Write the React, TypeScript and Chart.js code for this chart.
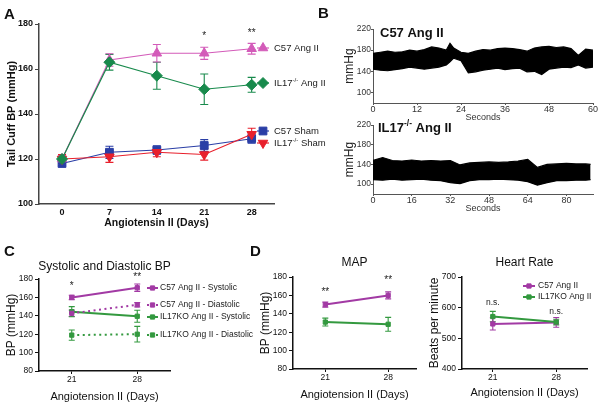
import React, { useEffect, useRef } from 'react';
import { Chart, registerables } from 'chart.js';
import { drawPoint } from 'chart.js/helpers';

Chart.register(...registerables);

const FONT = 'Arial, "Liberation Sans", Helvetica, sans-serif';

// ---------------- Panel A : tail cuff BP ----------------
const daysA = [0, 7, 14, 21, 28];
const tickDaysA = [0, 7, 14, 21, 28];
const tickBpA = [100, 120, 140, 160, 180];
const c57AngII_A = [120, 164, 167, 167, 169];
const c57AngII_AErr = [1.5, 2.8, 3.9, 2.7, 2.4];
const il17AngII_A = [120, 163, 157, 151, 153];
const il17AngII_AErr = [1.9, 3.5, 6, 6.8, 3.3];
const c57Sham_A = [118, 123, 124, 126, 129];
const c57Sham_AErr = [1, 2.7, 1.9, 2.6, 2];
const il17Sham_A = [120, 121, 123, 122, 131];
const il17Sham_AErr = [2, 2.5, 2, 2.5, 2.7];
const starsA = [
  { x: 21, y: 174.7, text: '*' },
  { x: 28, y: 176, text: '**' },
];

// ---------------- Panel B : telemetry traces ----------------
const tickMmHgB = [100, 140, 180, 220];
const secTicksTop = [0, 12, 24, 36, 48, 60];
const secTicksBottom = [0, 16, 32, 48, 64, 80];
const tC57 = [0, 2, 4, 6, 8, 10, 12, 14, 16, 18, 20, 21, 22, 24, 26, 28, 30, 32, 34, 36, 38, 40, 42, 44, 46, 48, 50, 52, 54, 56, 58, 60];
const c57Upper = [174, 176, 178, 176, 177, 180, 178, 181, 186, 184, 180, 193, 184, 176, 174, 178, 181, 180, 183, 184, 183, 181, 178, 184, 186, 187, 185, 186, 183, 170, 182, 180];
const c57Lower = [144, 142, 141, 143, 145, 148, 146, 144, 146, 148, 152, 158, 165, 160, 137, 139, 142, 144, 146, 143, 145, 146, 139, 140, 134, 144, 146, 148, 147, 152, 146, 148];
const tIL17 = [0, 4, 8, 12, 16, 20, 24, 28, 32, 36, 40, 44, 48, 52, 56, 60, 64, 68, 72, 76, 80, 84, 88, 90];
const il17Upper = [148, 154, 148, 147, 149, 147, 148, 147, 148, 139, 143, 144, 145, 144, 145, 147, 150, 134, 140, 141, 142, 141, 141, 140];
const il17Lower = [109, 108, 110, 108, 109, 110, 108, 107, 103, 101, 107, 109, 109, 110, 109, 108, 105, 98, 103, 107, 107, 108, 108, 109];

// ---------------- Panel C : systolic / diastolic ----------------
const daysCD = [21, 28];
const tickBpCD = [80, 100, 120, 140, 160, 180];
const c57Sys = [160, 170.5];
const c57SysErr = [2.4, 4];
const c57Dia = [142.7, 152];
const c57DiaErr = [3.5, 2.5];
const il17Sys = [144.5, 139.5];
const il17SysErr = [5.5, 6.5];
const il17Dia = [119, 120];
const il17DiaErr = [5.5, 8.5];
const starsC = [
  { x: 21, y: 172, text: '*' },
  { x: 28, y: 181.5, text: '**' },
];

// ---------------- Panel D : MAP and heart rate ----------------
const c57Map = [150, 160];
const c57MapErr = [2.7, 3.8];
const il17Map = [131, 128.6];
const il17MapErr = [4.3, 7.5];
const starsMap = [
  { x: 21, y: 163.5, text: '**' },
  { x: 28, y: 177, text: '**' },
];
const tickHR = [400, 500, 600, 700];
const c57HR = [547, 552];
const c57HRErr = [20, 16];
const il17HR = [571, 553];
const il17HRErr = [17, 9];
const nsHR = [
  { x: 21, y: 617, text: 'n.s.' },
  { x: 28, y: 586, text: 'n.s.' },
];

// ---------------- colours ----------------
const PINK = '#d35bb9';
const GREEN_A = '#188a4c';
const BLUE = '#2a3ea6';
const RED = '#e8202c';
const PURPLE = '#a23aa4';
const GREEN = '#33993f';

type Seg = { t: string; sup?: boolean };

const fontStr = (size: number, weight: string) => `${weight} ${size}px ${FONT}`;

function drawRich(ctx: any, segs: Seg[], x: number, y: number, size: number, weight = 'normal', color = '#111', align = 'left') {
  ctx.save();
  ctx.fillStyle = color;
  ctx.textBaseline = 'middle';
  ctx.textAlign = 'left';
  const widths = segs.map((s) => {
    ctx.font = fontStr(s.sup ? size * 0.65 : size, weight);
    return ctx.measureText(s.t).width;
  });
  const total = widths.reduce((a, b) => a + b, 0);
  let cx = align === 'center' ? x - total / 2 : x;
  segs.forEach((s, i) => {
    ctx.font = fontStr(s.sup ? size * 0.65 : size, weight);
    ctx.fillText(s.t, cx, s.sup ? y - size * 0.33 : y);
    cx += widths[i];
  });
  ctx.restore();
}

function drawLegendItem(ctx: any, it: any) {
  ctx.save();
  ctx.strokeStyle = it.color;
  ctx.fillStyle = it.color;
  ctx.lineWidth = it.lineWidth;
  ctx.setLineDash(it.dash || []);
  ctx.beginPath();
  ctx.moveTo(it.x0, it.y);
  ctx.lineTo(it.x1, it.y);
  ctx.stroke();
  ctx.setLineDash([]);
  ctx.lineWidth = 1;
  drawPoint(ctx, { pointStyle: it.style, rotation: it.rotation || 0, radius: it.radius, borderWidth: 1 } as any, (it.x0 + it.x1) / 2, it.y);
  ctx.restore();
  drawRich(ctx, it.segs, it.tx, it.y, it.size, 'normal', '#222');
}

function drawDataTexts(chart: any, items: any[], size: number) {
  const { ctx, scales } = chart;
  items.forEach((a) => {
    const px = scales.x.getPixelForValue(a.x);
    const py = scales.y.getPixelForValue(a.y);
    drawRich(ctx, [{ t: a.text }], px, py, size, 'normal', '#222', 'center');
  });
}

const errorBars = {
  id: 'errorBars',
  beforeDatasetsDraw(chart: any) {
    const { ctx, scales } = chart;
    chart.data.datasets.forEach((ds: any) => {
      if (!ds.errors) return;
      ctx.save();
      ctx.strokeStyle = ds.borderColor;
      ctx.lineWidth = ds.errLineWidth || 1;
      ctx.setLineDash([]);
      ds.data.forEach((p: any, i: number) => {
        const e = ds.errors[i];
        if (!e) return;
        const px = scales.x.getPixelForValue(p.x);
        const yt = scales.y.getPixelForValue(p.y + e);
        const yb = scales.y.getPixelForValue(p.y - e);
        const c = ds.capHalf || 3;
        ctx.beginPath();
        ctx.moveTo(px, yt);
        ctx.lineTo(px, yb);
        ctx.moveTo(px - c, yt);
        ctx.lineTo(px + c, yt);
        ctx.moveTo(px - c, yb);
        ctx.lineTo(px + c, yb);
        ctx.stroke();
      });
      ctx.restore();
    });
  },
};

function overlay(id: string, fn: (chart: any) => void) {
  return { id, afterDraw: fn };
}

const pts = (xs: number[], ys: number[]) => xs.map((x, i) => ({ x, y: ys[i] }));

function series(xs: number[], ys: number[], errs: number[], color: string, style: string, radius: number, rotation: number, lw: number, cap: number, dash: number[] = []) {
  return {
    data: pts(xs, ys),
    errors: errs,
    capHalf: cap,
    errLineWidth: 1.1,
    borderColor: color,
    backgroundColor: color,
    borderWidth: lw,
    borderDash: dash,
    pointStyle: style,
    pointRadius: radius,
    pointRotation: rotation,
    pointBackgroundColor: color,
    pointBorderColor: color,
    pointBorderWidth: 1,
    tension: 0,
    fill: false,
  };
}

function axis(o: any) {
  return {
    type: 'linear',
    bounds: 'data',
    min: o.min,
    max: o.max,
    afterBuildTicks: (s: any) => {
      s.ticks = o.ticks.map((v: number) => ({ value: v }));
    },
    afterFit: (s: any) => {
      if (o.width !== undefined) s.width = o.width;
      if (o.height !== undefined) s.height = o.height;
    },
    grid: {
      display: true,
      drawOnChartArea: false,
      drawTicks: o.tickLen > 0,
      tickLength: o.tickLen,
      color: o.color || '#333',
      lineWidth: o.tickWidth || 1,
    },
    border: { display: true, color: o.color || '#333', width: o.borderWidth || 1 },
    ticks: {
      autoSkip: false,
      maxRotation: 0,
      minRotation: 0,
      padding: o.tickPad,
      color: o.tickColor || '#111',
      font: { family: FONT, size: o.tickSize, weight: o.tickWeight || 'normal' },
      callback: (v: any) => String(v),
    },
    title: o.title
      ? {
          display: true,
          text: o.title,
          color: o.titleColor || '#111',
          font: { family: FONT, size: o.titleSize, weight: o.titleWeight || 'normal' },
          padding: { top: o.titlePad, bottom: o.titlePad },
        }
      : { display: false },
  };
}

function baseOptions(padding: any, x: any, y: any) {
  return {
    responsive: false,
    maintainAspectRatio: false,
    animation: false,
    devicePixelRatio: 1,
    events: [],
    layout: { padding, autoPadding: false },
    plugins: { legend: { display: false }, tooltip: { enabled: false }, title: { display: false } },
    scales: { x, y },
  };
}

// ---------- chart factories ----------
const makeA = () => ({
  type: 'line',
  data: {
    datasets: [
      series(daysA, il17AngII_A, il17AngII_AErr, GREEN_A, 'rectRot', 5.5, 0, 1.2, 4),
      series(daysA, c57AngII_A, c57AngII_AErr, PINK, 'triangle', 5.5, 0, 1.2, 4),
      series(daysA, il17Sham_A, il17Sham_AErr, RED, 'triangle', 5.5, 180, 1.2, 4),
      series(daysA, c57Sham_A, c57Sham_AErr, BLUE, 'rect', 5.5, 0, 1.2, 4),
    ],
  },
  options: baseOptions(
    { top: 24, right: 56, bottom: 0, left: 0 },
    axis({ min: -3.4, max: 31.3, ticks: tickDaysA, height: 31, tickLen: 0, tickPad: 3.6, tickSize: 9, tickWeight: 'bold', title: 'Angiotensin II (Days)', titleSize: 10.5, titleWeight: 'bold', titlePad: 5.5, borderWidth: 1.5, color: '#444' }),
    axis({ min: 100, max: 180, ticks: tickBpA, width: 39, tickLen: 4, tickPad: 2, tickSize: 9, tickWeight: 'bold', title: 'Tail Cuff BP (mmHg)', titleSize: 11, titleWeight: 'bold', titlePad: 5.4, borderWidth: 1.5, color: '#444' })
  ),
  plugins: [
    errorBars,
    overlay('ovA', (chart: any) => {
      const ctx = chart.ctx;
      drawDataTexts(chart, starsA, 10);
      const common = { x0: 257, x1: 269, tx: 274, size: 9.5, lineWidth: 1.2 };
      drawLegendItem(ctx, { ...common, y: 48, color: PINK, style: 'triangle', radius: 5.5, segs: [{ t: 'C57 Ang II' }] });
      drawLegendItem(ctx, { ...common, y: 83, color: GREEN_A, style: 'rectRot', radius: 5.5, segs: [{ t: 'IL17' }, { t: '-/-', sup: true }, { t: ' Ang II' }] });
      drawLegendItem(ctx, { ...common, y: 131, color: BLUE, style: 'rect', radius: 5.5, segs: [{ t: 'C57 Sham' }] });
      drawLegendItem(ctx, { ...common, y: 143, color: RED, style: 'triangle', rotation: 180, radius: 5.5, segs: [{ t: 'IL17' }, { t: '-/-', sup: true }, { t: ' Sham' }] });
    }),
  ],
});

function makeTrace(ts: number[], up: number[], lo: number[], xmax: number, xticks: number[], pad: any, xHeight: number, titlePad: number, label: Seg[], labelX: number, labelY: number) {
  return () => ({
    type: 'line',
    data: {
      datasets: [
        { data: pts(ts, up), borderColor: '#000', borderWidth: 1.2, pointRadius: 0, fill: false, tension: 0 },
        { data: pts(ts, lo), borderColor: '#000', backgroundColor: '#000', borderWidth: 1.2, pointRadius: 0, fill: '-1', tension: 0 },
      ],
    },
    options: baseOptions(
      pad,
      axis({ min: 0, max: xmax, ticks: xticks, height: xHeight, tickLen: 2, tickPad: -1, tickSize: 9, tickColor: '#333', title: 'Seconds', titleSize: 9, titleColor: '#333', titlePad, color: '#555' }),
      axis({ min: 80, max: 220, ticks: tickMmHgB, width: 43, tickLen: 2, tickPad: 0, tickSize: 8.5, tickColor: '#333', title: 'mmHg', titleSize: 12, titleColor: '#222', titlePad: 12, color: '#555' })
    ),
    plugins: [
      overlay('ovB', (chart: any) => {
        drawRich(chart.ctx, label, labelX, labelY, 13, 'bold', '#111');
      }),
    ],
  });
}

const makeBTop = makeTrace(tC57, c57Upper, c57Lower, 60, secTicksTop, { top: 29, right: 8, bottom: 0, left: 0 }, 22, 1.6, [{ t: 'C57 Ang II' }], 50, 33);
const makeBBottom = makeTrace(tIL17, il17Upper, il17Lower, 91, secTicksBottom, { top: 12, right: 8, bottom: 0, left: 0 }, 21, 0.6, [{ t: 'IL17' }, { t: '-/-', sup: true }, { t: ' Ang II' }], 48, 15);

function cdXAxis(min: number, max: number, titlePad: number) {
  return axis({ min, max, ticks: daysCD, height: 36, tickLen: 3, tickPad: 1, tickSize: 8.5, title: 'Angiotension II (Days)', titleSize: 11, titlePad, borderWidth: 1.5, color: '#111' });
}

const makeC = () => ({
  type: 'line',
  data: {
    datasets: [
      series(daysCD, c57Sys, c57SysErr, PURPLE, 'rect', 3, 0, 2, 3),
      series(daysCD, c57Dia, c57DiaErr, PURPLE, 'rect', 3, 0, 2, 3, [2, 3.5]),
      series(daysCD, il17Sys, il17SysErr, GREEN, 'rect', 3, 0, 2, 3),
      series(daysCD, il17Dia, il17DiaErr, GREEN, 'rect', 3, 0, 2, 3, [2, 3.5]),
    ],
  },
  options: baseOptions(
    { top: 39, right: 92, bottom: 0, left: 0 },
    { ...cdXAxis(17.5, 31.5, 1.4), afterFit: (s: any) => { s.height = 34; } },
    axis({ min: 80, max: 180, ticks: tickBpCD, width: 39, tickLen: 4, tickPad: 2, tickSize: 8.5, title: 'BP (mmHg)', titleSize: 12, titlePad: 4, borderWidth: 1.5, color: '#111' })
  ),
  plugins: [
    errorBars,
    overlay('ovC', (chart: any) => {
      const ctx = chart.ctx;
      const ca = chart.chartArea;
      drawRich(ctx, [{ t: 'Systolic and Diastolic BP' }], (ca.left + ca.right) / 2, 27, 12, 'normal', '#111', 'center');
      drawDataTexts(chart, starsC, 10);
      const common = { x0: 147, x1: 158, tx: 160, size: 8.5, lineWidth: 2, style: 'rect', radius: 3 };
      drawLegendItem(ctx, { ...common, y: 48, color: PURPLE, segs: [{ t: 'C57 Ang II - Systolic' }] });
      drawLegendItem(ctx, { ...common, y: 65, color: PURPLE, dash: [2, 2.5], segs: [{ t: 'C57 Ang II - Diastolic' }] });
      drawLegendItem(ctx, { ...common, y: 77, color: GREEN, segs: [{ t: 'IL17KO Ang II - Systolic' }] });
      drawLegendItem(ctx, { ...common, y: 95, color: GREEN, dash: [2, 2.5], segs: [{ t: 'IL17KO Ang II - Diastolic' }] });
    }),
  ],
});

const makeMap = () => ({
  type: 'line',
  data: {
    datasets: [
      series(daysCD, c57Map, c57MapErr, PURPLE, 'rect', 3, 0, 2, 3),
      series(daysCD, il17Map, il17MapErr, GREEN, 'rect', 3, 0, 2, 3),
    ],
  },
  options: baseOptions(
    { top: 32, right: 14, bottom: 0, left: 0 },
    cdXAxis(17.4, 31.1, 3.4),
    axis({ min: 80, max: 180, ticks: tickBpCD, width: 53, tickLen: 4, tickPad: 2, tickSize: 8.5, title: 'BP (mmHg)', titleSize: 12, titlePad: 18, borderWidth: 1.5, color: '#111' })
  ),
  plugins: [
    errorBars,
    overlay('ovMap', (chart: any) => {
      const ca = chart.chartArea;
      drawRich(chart.ctx, [{ t: 'MAP' }], (ca.left + ca.right) / 2, 18, 12, 'normal', '#111', 'center');
      drawDataTexts(chart, starsMap, 10);
    }),
  ],
});

const makeHR = () => ({
  type: 'line',
  data: {
    datasets: [
      series(daysCD, il17HR, il17HRErr, GREEN, 'rect', 3, 0, 2, 3),
      series(daysCD, c57HR, c57HRErr, PURPLE, 'rect', 3, 0, 2, 3),
    ],
  },
  options: baseOptions(
    { top: 32, right: 14, bottom: 0, left: 0 },
    cdXAxis(17.6, 31.4, 5.4),
    axis({ min: 400, max: 700, ticks: tickHR, width: 37, tickLen: 4, tickPad: 2, tickSize: 8.5, title: 'Beats per minute', titleSize: 12, titlePad: 2.8, borderWidth: 1.5, color: '#111' })
  ),
  plugins: [
    errorBars,
    overlay('ovHR', (chart: any) => {
      const ctx = chart.ctx;
      const ca = chart.chartArea;
      drawRich(ctx, [{ t: 'Heart Rate' }], (ca.left + ca.right) / 2, 18, 12, 'normal', '#111', 'center');
      drawDataTexts(chart, nsHR, 8.5);
      const common = { x0: 98, x1: 110, tx: 113, size: 8.5, lineWidth: 2, style: 'rect', radius: 3 };
      drawLegendItem(ctx, { ...common, y: 41, color: PURPLE, segs: [{ t: 'C57 Ang II' }] });
      drawLegendItem(ctx, { ...common, y: 52, color: GREEN, segs: [{ t: 'IL17KO Ang II' }] });
    }),
  ],
});

function ChartBox({ left, top, width, height, make }: any) {
  const ref = useRef<HTMLCanvasElement>(null);
  useEffect(() => {
    const chart = new Chart(ref.current as HTMLCanvasElement, make() as any);
    return () => chart.destroy();
  }, []);
  return (
    <canvas
      ref={ref}
      width={width}
      height={height}
      style={{ position: 'absolute', left, top, width, height, display: 'block' }}
    />
  );
}

const letterStyle = (left: number, top: number): React.CSSProperties => ({
  position: 'absolute',
  left,
  top,
  fontFamily: FONT,
  fontWeight: 'bold',
  fontSize: 15,
  lineHeight: '15px',
  color: '#111',
});

export default function App() {
  return (
    <div style={{ position: 'absolute', left: 0, top: 0, width: 601, height: 405, background: '#fff', overflow: 'hidden' }}>
      <ChartBox left={0} top={0} width={330} height={235} make={makeA} />
      <ChartBox left={330} top={0} width={271} height={125} make={makeBTop} />
      <ChartBox left={330} top={113} width={271} height={102} make={makeBBottom} />
      <ChartBox left={0} top={240} width={262} height={165} make={makeC} />
      <ChartBox left={240} top={245} width={190} height={160} make={makeMap} />
      <ChartBox left={425} top={245} width={176} height={160} make={makeHR} />
      <div style={letterStyle(4, 6)}>A</div>
      <div style={letterStyle(318, 5)}>B</div>
      <div style={letterStyle(4, 243)}>C</div>
      <div style={letterStyle(250, 243)}>D</div>
    </div>
  );
}
